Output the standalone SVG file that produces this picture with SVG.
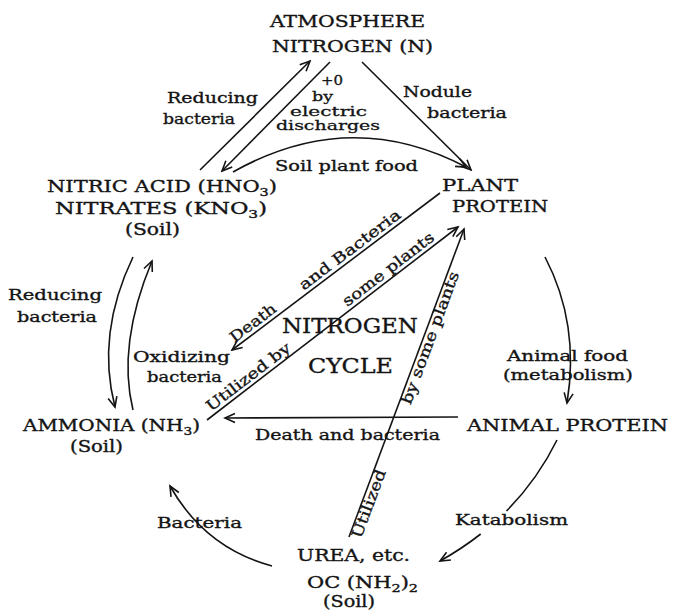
<svg xmlns="http://www.w3.org/2000/svg" width="673" height="612" viewBox="0 0 673 612">
<style>
text{font-family:"DejaVu Serif","Liberation Serif",serif;fill:#141414;stroke:#141414;stroke-width:0.35px;}
.n{font-size:16px;}
.l{font-size:15px;}
.s{font-size:13px;stroke-width:0.3px;}
.t{font-size:21px;}
.sub{font-size:11px;}
.c{fill:none;stroke:#141414;stroke-width:1.6;marker-end:url(#ah);}
.c2{fill:none;stroke:#141414;stroke-width:1.6;}
</style>
<defs>
<marker id="ah" viewBox="-12 -7 14 14" markerWidth="14" markerHeight="14" refX="0" refY="0" orient="auto" markerUnits="userSpaceOnUse">
<path d="M-10,-4.5 L0,0 L-10,4.5" fill="none" stroke="#141414" stroke-width="1.6"/>
</marker>
</defs>
<rect width="673" height="612" fill="#fff"/>

<g id="connectors">
<path class="c" d="M200,170 L310,61"/>
<path class="c" d="M330,62 L222,171"/>
<path class="c" d="M362,62 L471,170"/>
<path class="c" d="M233,172 Q350,106 466,167"/>
<path class="c" d="M440,193 L232,350"/>
<path class="c" d="M207,420 L458,227"/>
<path class="c" d="M349,537 L464,229"/>
<path class="c" d="M133,257 Q96,334 115,407"/>
<path class="c" d="M133,410 Q117,345 152,261"/>
<path class="c" d="M545,257 Q580,324 567,403"/>
<path class="c" d="M458,417 L225,418"/>
<path class="c2" d="M557,440 Q537.3,479.9 506.5,511"/>
<path class="c" d="M480.7,534 Q461.9,548.8 440,561"/>
<path class="c" d="M272,566 Q205,548 170,486"/>
</g>

<g id="atmosphere">
<text class="n" x="270" y="27" textLength="155" lengthAdjust="spacingAndGlyphs">ATMOSPHERE</text>
<text class="n" x="272" y="52" textLength="161" lengthAdjust="spacingAndGlyphs">NITROGEN (N)</text>
</g>
<g id="nitric">
<text class="n" x="47" y="192" textLength="230" lengthAdjust="spacingAndGlyphs">NITRIC ACID (HNO<tspan class="sub" dy="4">3</tspan><tspan dy="-4">)</tspan></text>
<text class="n" x="55" y="214" textLength="212" lengthAdjust="spacingAndGlyphs">NITRATES (KNO<tspan class="sub" dy="4">3</tspan><tspan dy="-4">)</tspan></text>
<text class="n" x="125" y="235" textLength="55" lengthAdjust="spacingAndGlyphs">(Soil)</text>
</g>
<g id="plant">
<text class="n" x="442" y="191" textLength="76" lengthAdjust="spacingAndGlyphs">PLANT</text>
<text class="n" x="452" y="212" textLength="96" lengthAdjust="spacingAndGlyphs">PROTEIN</text>
</g>
<g id="ammonia">
<text class="n" x="23" y="431" textLength="177" lengthAdjust="spacingAndGlyphs">AMMONIA (NH<tspan class="sub" dy="4">3</tspan><tspan dy="-4">)</tspan></text>
<text class="n" x="70" y="452" textLength="53" lengthAdjust="spacingAndGlyphs">(Soil)</text>
</g>
<g id="animal">
<text class="n" x="467" y="431" textLength="201" lengthAdjust="spacingAndGlyphs">ANIMAL PROTEIN</text>
</g>
<g id="urea">
<text class="n" x="297" y="561" textLength="113" lengthAdjust="spacingAndGlyphs">UREA, etc.</text>
<text class="n" x="307" y="588" textLength="111" lengthAdjust="spacingAndGlyphs">OC (NH<tspan class="sub" dy="4">2</tspan><tspan dy="-4">)</tspan><tspan class="sub" dy="4">2</tspan></text>
<text class="n" x="323" y="607" textLength="52" lengthAdjust="spacingAndGlyphs">(Soil)</text>
</g>
<g id="title">
<text class="t" x="282" y="333" textLength="136" lengthAdjust="spacingAndGlyphs">NITROGEN</text>
<text class="t" x="308" y="373" textLength="85" lengthAdjust="spacingAndGlyphs">CYCLE</text>
</g>

<g id="labels">
<text class="l" x="167" y="103" textLength="91" lengthAdjust="spacingAndGlyphs">Reducing</text>
<text class="l" x="163" y="124" textLength="72" lengthAdjust="spacingAndGlyphs">bacteria</text>
<text class="s" x="321" y="85" textLength="22" lengthAdjust="spacingAndGlyphs">+0</text>
<text class="s" x="312" y="101" textLength="21" lengthAdjust="spacingAndGlyphs">by</text>
<text class="s" x="290" y="116" textLength="77" lengthAdjust="spacingAndGlyphs">electric</text>
<text class="s" x="276" y="129.5" textLength="104" lengthAdjust="spacingAndGlyphs">discharges</text>
<text class="l" x="403" y="97" textLength="69" lengthAdjust="spacingAndGlyphs">Nodule</text>
<text class="l" x="427" y="118" textLength="80" lengthAdjust="spacingAndGlyphs">bacteria</text>
<text class="l" x="275" y="171" textLength="143" lengthAdjust="spacingAndGlyphs">Soil plant food</text>
<text class="l" x="8" y="300" textLength="94" lengthAdjust="spacingAndGlyphs">Reducing</text>
<text class="l" x="17" y="322" textLength="80" lengthAdjust="spacingAndGlyphs">bacteria</text>
<text class="l" x="133" y="362" textLength="97" lengthAdjust="spacingAndGlyphs">Oxidizing</text>
<text class="l" x="147" y="382" textLength="75" lengthAdjust="spacingAndGlyphs">bacteria</text>
<text class="l" x="507" y="361" textLength="121" lengthAdjust="spacingAndGlyphs">Animal food</text>
<text class="l" x="503" y="380" textLength="130" lengthAdjust="spacingAndGlyphs">(metabolism)</text>
<text class="l" x="255" y="440" textLength="185" lengthAdjust="spacingAndGlyphs">Death and bacteria</text>
<text class="l" x="157" y="528" textLength="85" lengthAdjust="spacingAndGlyphs">Bacteria</text>
<text class="l" x="455" y="525" textLength="113" lengthAdjust="spacingAndGlyphs">Katabolism</text>
<text class="l" transform="translate(234.4,343.2) rotate(-37.05)" textLength="54" lengthAdjust="spacingAndGlyphs">Death</text>
<text class="l" transform="translate(303.8,290.8) rotate(-37.05)" textLength="123" lengthAdjust="spacingAndGlyphs">and Bacteria</text>
<text class="l" transform="translate(210.9,411.9) rotate(-37.55)" textLength="102" lengthAdjust="spacingAndGlyphs">Utilized by</text>
<text class="l" transform="translate(347.3,307) rotate(-37.55)" textLength="111" lengthAdjust="spacingAndGlyphs">some plants</text>
<text class="l" transform="translate(361,539.3) rotate(-69.7)" textLength="72" lengthAdjust="spacingAndGlyphs">Utilized</text>
<text class="l" transform="translate(410.6,405.2) rotate(-69.7)" textLength="140" lengthAdjust="spacingAndGlyphs">by some plants</text>
</g>
</svg>
